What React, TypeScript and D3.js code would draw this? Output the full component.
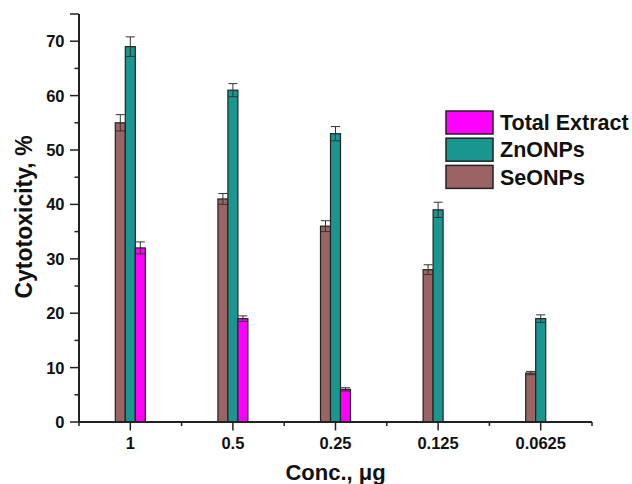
import React, { useEffect, useRef } from "react";
import * as d3 from "d3";

// data
const concLabels = ["1", "0.5", "0.25", "0.125", "0.0625"];
const seValues = [55, 41, 36, 28, 9];
const seErrors = [1.5, 1, 1, 0.9, 0.3];
const znValues = [69, 61, 53, 39, 19];
const znErrors = [1.8, 1.2, 1.3, 1.4, 0.7];
const totalValues = [32, 19, 6, 0, 0];
const totalErrors = [1.1, 0.5, 0.3, 0, 0];
const yTicks = [0, 10, 20, 30, 40, 50, 60, 70];

const seriesNames = ["SeONPs", "ZnONPs", "Total Extract"];
const seriesColors = ["#9a6464", "#1a9690", "#ff00ff"];
const legendOrder = [2, 1, 0];

function drawChart(svgEl: SVGSVGElement) {
  const svg = d3.select(svgEl);
  svg.selectAll("*").remove();

  const margin = { left: 79, right: 40, top: 14, bottom: 62 };
  const width = 632;
  const height = 484;
  const font = "Arial, 'Liberation Sans', sans-serif";

  const x = d3
    .scaleBand()
    .domain(concLabels)
    .range([margin.left, width - margin.right])
    .padding(0);
  const y = d3
    .scaleLinear()
    .domain([0, 75])
    .range([height - margin.bottom, margin.top]);

  const barW = 10;
  const series = [
    { vals: seValues, errs: seErrors },
    { vals: znValues, errs: znErrors },
    { vals: totalValues, errs: totalErrors },
  ];

  const g = svg.append("g");

  series.forEach((s, si) => {
    concLabels.forEach((c, ci) => {
      const v = s.vals[ci];
      if (v <= 0) return;
      const cx = x(c)! + x.bandwidth() / 2 + (si - 1) * barW;
      g.append("rect")
        .attr("x", cx - barW / 2)
        .attr("y", y(v))
        .attr("width", barW)
        .attr("height", y(0) - y(v))
        .attr("fill", seriesColors[si])
        .attr("stroke", "#222")
        .attr("stroke-width", 1.2);
      // error bar, drawn both ways
      const e = s.errs[ci];
      const cap = 4.5;
      const eb = g.append("g").attr("stroke", "#333").attr("stroke-width", 1);
      eb.append("line")
        .attr("x1", cx).attr("x2", cx)
        .attr("y1", y(v + e)).attr("y2", y(v - e));
      eb.append("line")
        .attr("x1", cx - cap).attr("x2", cx + cap)
        .attr("y1", y(v + e)).attr("y2", y(v + e));
      eb.append("line")
        .attr("x1", cx - cap).attr("x2", cx + cap)
        .attr("y1", y(v - e)).attr("y2", y(v - e));
    });
  });

  // Y axis
  const yMinor = d3.range(5, 75, 10);
  const yAxisG = svg.append("g").attr("stroke", "#222");
  yAxisG.append("line")
    .attr("x1", margin.left).attr("x2", margin.left)
    .attr("y1", y(75)).attr("y2", y(0))
    .attr("stroke-width", 2);
  yTicks.concat([75]).forEach((t) => {
    yAxisG.append("line")
      .attr("x1", margin.left - 9).attr("x2", margin.left)
      .attr("y1", y(t)).attr("y2", y(t))
      .attr("stroke-width", 1.5);
  });
  yMinor.forEach((t) => {
    yAxisG.append("line")
      .attr("x1", margin.left - 4.5).attr("x2", margin.left)
      .attr("y1", y(t)).attr("y2", y(t))
      .attr("stroke-width", 1.5);
  });
  svg.append("g")
    .selectAll("text")
    .data(yTicks)
    .enter()
    .append("text")
    .attr("x", margin.left - 14.5)
    .attr("y", (d) => y(d))
    .attr("dy", "0.36em")
    .attr("text-anchor", "end")
    .style("font-family", font)
    .style("font-weight", "bold")
    .style("font-size", "16.5px")
    .style("fill", "#111")
    .text((d) => d);

  // X axis
  const xAxisG = svg.append("g").attr("stroke", "#222");
  xAxisG.append("line")
    .attr("x1", margin.left - 1).attr("x2", width - margin.right)
    .attr("y1", y(0)).attr("y2", y(0))
    .attr("stroke-width", 2);
  concLabels.forEach((c) => {
    const cx = x(c)! + x.bandwidth() / 2;
    xAxisG.append("line")
      .attr("x1", cx).attr("x2", cx)
      .attr("y1", y(0)).attr("y2", y(0) + 8.5)
      .attr("stroke-width", 1.5);
  });
  concLabels.concat(["end"]).forEach((c, i) => {
    const bx = i < concLabels.length ? x(c)! : width - margin.right;
    xAxisG.append("line")
      .attr("x1", bx).attr("x2", bx)
      .attr("y1", y(0)).attr("y2", y(0) + 4)
      .attr("stroke-width", 1.5);
  });
  svg.append("g")
    .selectAll("text")
    .data(concLabels)
    .enter()
    .append("text")
    .attr("x", (d) => x(d)! + x.bandwidth() / 2)
    .attr("y", y(0) + 27)
    .attr("text-anchor", "middle")
    .style("font-family", font)
    .style("font-weight", "bold")
    .style("font-size", "16.5px")
    .style("fill", "#111")
    .text((d) => d);

  // axis titles
  svg.append("text")
    .attr("x", (margin.left + width - margin.right) / 2)
    .attr("y", 480)
    .attr("text-anchor", "middle")
    .style("font-family", font)
    .style("font-weight", "bold")
    .style("font-size", "22px")
    .style("fill", "#111")
    .text("Conc., \u03BCg");
  svg.append("text")
    .attr("transform", `translate(32,217) rotate(-90)`)
    .attr("text-anchor", "middle")
    .style("font-family", font)
    .style("font-weight", "bold")
    .style("font-size", "23px")
    .style("fill", "#111")
    .text("Cytotoxicity, %");

  // legend
  const lg = svg.append("g").attr("transform", "translate(446,111)");
  legendOrder.forEach((si, i) => {
    const row = lg.append("g").attr("transform", `translate(0,${i * 27.2})`);
    row.append("rect")
      .attr("width", 47)
      .attr("height", 23)
      .attr("fill", seriesColors[si])
      .attr("stroke", "#222")
      .attr("stroke-width", 1.5);
    row.append("text")
      .attr("x", 54)
      .attr("y", 11.5)
      .attr("dy", "0.36em")
      .style("font-family", font)
      .style("font-weight", "bold")
      .style("font-size", "21.5px")
      .style("fill", "#111")
      .text(seriesNames[si]);
  });
}

export default function App() {
  const ref = useRef<SVGSVGElement>(null);
  useEffect(() => {
    if (ref.current) drawChart(ref.current);
  }, []);
  return (
    <svg
      ref={ref}
      width={632}
      height={484}
      style={{ position: "absolute", left: 0, top: 0, background: "#fff" }}
    />
  );
}
